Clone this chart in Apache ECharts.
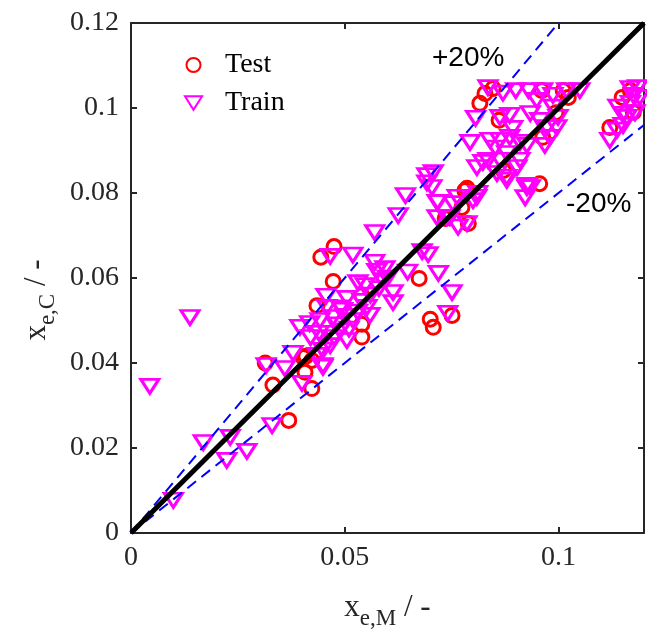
<!DOCTYPE html>
<html>
<head>
<meta charset="utf-8">
<script src="https://cdn.jsdelivr.net/npm/echarts@6/dist/echarts.min.js"></script>
<style>
  html, body { margin: 0; padding: 0; background: #fff; }
  #main { width: 647px; height: 634px; }
</style>
</head>
<body>
<div id="main"></div>
<script>
var testPoints = [
  [0.0314, 0.0400], [0.0332, 0.0348], [0.0369, 0.0265], [0.0423, 0.0340],
  [0.0407, 0.0378], [0.0423, 0.0406], [0.0403, 0.0413], [0.0435, 0.0535],
  [0.0475, 0.0674], [0.0444, 0.0649], [0.0473, 0.0592], [0.0540, 0.0559],
  [0.0540, 0.0491], [0.0540, 0.0461], [0.0674, 0.0599], [0.0700, 0.0503],
  [0.0707, 0.0484], [0.0751, 0.0512], [0.0409, 0.0416], [0.0847, 0.1046],
  [0.0816, 0.1011], [0.0828, 0.1034], [0.0861, 0.0971], [0.0961, 0.1041],
  [0.1011, 0.1041], [0.1023, 0.1025], [0.0994, 0.0989], [0.0963, 0.0931],
  [0.0786, 0.0811], [0.0774, 0.0766], [0.0789, 0.0728], [0.0956, 0.0822],
  [0.1149, 0.1025], [0.1168, 0.1041], [0.1120, 0.0954], [0.0871, 0.0853],
  [0.0735, 0.0740], [0.0781, 0.0806], [0.1175, 0.0990]
];

var trainPoints = [
  // low range
  [0.0138, 0.0507], [0.0044, 0.0345], [0.0169, 0.0213], [0.0232, 0.0225],
  [0.0224, 0.0171], [0.0271, 0.0192], [0.0099, 0.0077], [0.0330, 0.0253],
  [0.0316, 0.0394], [0.0360, 0.0387], [0.0379, 0.0423], [0.0400, 0.0352],
  [0.0395, 0.0484], [0.0418, 0.0493], [0.0449, 0.0394], [0.0458, 0.0531],
  // middle cluster
  [0.0570, 0.0707], [0.0466, 0.0651], [0.0519, 0.0654], [0.0570, 0.0637],
  [0.0575, 0.0616], [0.0594, 0.0622], [0.0589, 0.0594], [0.0531, 0.0589],
  [0.0548, 0.0582], [0.0613, 0.0566], [0.0613, 0.0542], [0.0647, 0.0614],
  [0.0681, 0.0662], [0.0695, 0.0655], [0.0719, 0.0611], [0.0751, 0.0566],
  [0.0741, 0.0517], [0.0456, 0.0557], [0.0505, 0.0552], [0.0552, 0.0531],
  [0.0559, 0.0512], [0.0495, 0.0524], [0.0442, 0.0500], [0.0473, 0.0507],
  [0.0489, 0.0476], [0.0505, 0.0453], [0.0466, 0.0441], [0.0449, 0.0430],
  [0.0449, 0.0390], [0.0435, 0.0418], [0.0480, 0.0490], [0.0520, 0.0500],
  [0.0530, 0.0520], [0.0540, 0.0545], [0.0460, 0.0470], [0.0475, 0.0460],
  [0.0500, 0.0510], [0.0510, 0.0480], [0.0560, 0.0560], [0.0580, 0.0575],
  [0.0420, 0.0460], [0.0440, 0.0470], [0.0600, 0.0600], [0.0490, 0.0530],
  // upper middle
  [0.0692, 0.0824], [0.0625, 0.0747], [0.0642, 0.0794], [0.0704, 0.0813],
  [0.0716, 0.0778], [0.0746, 0.0742], [0.0753, 0.0775], [0.0786, 0.0728],
  [0.0800, 0.0782], [0.0811, 0.0799], [0.0716, 0.0742], [0.0922, 0.0789],
  [0.0926, 0.0818], [0.0692, 0.0841], [0.0707, 0.0848], [0.0806, 0.0976],
  [0.0793, 0.0919], [0.0835, 0.1048], [0.0863, 0.0978], [0.0886, 0.0983],
  [0.0840, 0.0924], [0.0863, 0.0924], [0.0886, 0.0931], [0.0893, 0.0952],
  [0.0852, 0.0906], [0.0879, 0.0893], [0.0910, 0.0919], [0.0809, 0.0860],
  [0.0835, 0.0877], [0.0856, 0.0846], [0.0879, 0.0837], [0.0903, 0.0860],
  [0.0910, 0.0877], [0.0763, 0.0790], [0.0809, 0.0790], [0.0926, 0.0912],
  [0.0934, 0.0987], [0.0949, 0.1018], [0.0963, 0.1041], [0.0956, 0.0971],
  [0.0973, 0.0954], [0.0980, 0.0931], [0.0968, 0.0912], [0.0987, 0.1030],
  [0.0987, 0.1002], [0.0999, 0.0978], [0.0996, 0.0954], [0.1019, 0.1041],
  [0.1050, 0.1041], [0.0926, 0.0813], [0.0879, 0.0830], [0.0823, 0.0872],
  [0.0863, 0.0877], [0.0934, 0.0813], [0.0765, 0.0720], [0.0739, 0.0742],
  [0.0718, 0.0778], [0.0930, 0.1041], [0.0900, 0.1041], [0.0870, 0.1035],
  // right group
  [0.1120, 0.0924], [0.1137, 0.0948], [0.1151, 0.0959], [0.1160, 0.0978],
  [0.1139, 0.1002], [0.1168, 0.1011], [0.1168, 0.1046], [0.1185, 0.1048],
  [0.1190, 0.1025], [0.1179, 0.0989], [0.1175, 0.1030], [0.1150, 0.0985]
];

// reference lines y = x and +-20 %
var parityLine = [[0, 0], [0.12, 0.12]];
var plus20Line = [[0, 0], [0.12, 0.144]];
var minus20Line = [[0, 0], [0.12, 0.096]];

var xTicks = [0, 0.05, 0.1];
var yTicks = [0, 0.02, 0.04, 0.06, 0.08, 0.1, 0.12];

var downTriangle = 'path://M0,0 L20,0 L10,16 Z';
var serif = '"Liberation Serif", "Times New Roman", serif';
var sans = '"Liberation Sans", Arial, sans-serif';
var frameColor = '#262626';

var chart = echarts.init(document.getElementById('main'));

function tickFmt(list) {
  return function (v) {
    var hit = list.filter(function (t) { return Math.abs(t - v) < 1e-9; });
    return hit.length ? String(parseFloat(hit[0].toFixed(3))) : '';
  };
}

var axisCommon = {
  min: 0,
  max: 0.12,
  axisLine: { show: true, onZero: false, lineStyle: { color: frameColor, width: 2 } },
  axisTick: { show: true, inside: true, length: 6, lineStyle: { color: frameColor, width: 2 } },
  splitLine: { show: false }
};

var nameRich = {
  a: { fontFamily: serif, fontSize: 31, color: frameColor },
  b: { fontFamily: serif, fontSize: 23, color: frameColor, padding: [22, 0, 0, 0] }
};

chart.setOption({
  backgroundColor: '#ffffff',
  animation: false,
  grid: { left: 131, right: 3, top: 23, bottom: 101, containLabel: false, outerBoundsMode: 'none' },
  legend: {
    orient: 'vertical',
    left: 179,
    top: 44,
    itemWidth: 17,
    itemHeight: 14,
    itemGap: 6,
    textStyle: { fontFamily: serif, fontSize: 28, color: '#000', lineHeight: 32, padding: [0, 0, 0, 18] },
    data: [
      { name: 'Test', icon: 'circle' },
      { name: 'Train', icon: downTriangle }
    ]
  },
  xAxis: [
    Object.assign({}, axisCommon, {
      type: 'value',
      position: 'bottom',
      interval: 0.05,
      axisLabel: { fontFamily: serif, fontSize: 28, color: frameColor, margin: 11, formatter: tickFmt(xTicks) },
      name: '{a|x}{b|e,M}{a| / -}',
      nameLocation: 'middle',
      nameGap: 52,
      nameTextStyle: { rich: nameRich }
    }),
    Object.assign({}, axisCommon, {
      type: 'value',
      position: 'top',
      interval: 0.05,
      axisLabel: { show: false }
    })
  ],
  yAxis: [
    Object.assign({}, axisCommon, {
      type: 'value',
      position: 'left',
      interval: 0.02,
      axisLabel: { fontFamily: serif, fontSize: 28, color: frameColor, margin: 12, formatter: tickFmt(yTicks) },
      name: '{a|x}{b|e,C}{a| / -}',
      nameLocation: 'middle',
      nameGap: 63,
      nameTextStyle: { rich: nameRich, padding: [0, 44, 0, 0] }
    }),
    Object.assign({}, axisCommon, {
      type: 'value',
      position: 'right',
      interval: 0.02,
      axisLabel: { show: false }
    })
  ],
  graphic: [
    { type: 'text', left: 432, top: 44, z: 100,
      style: { text: '+20%', fontFamily: sans, fontSize: 28, fill: '#000' } },
    { type: 'text', left: 566, top: 190, z: 100,
      style: { text: '-20%', fontFamily: sans, fontSize: 28, fill: '#000' } }
  ],
  series: [
    {
      name: 'Test',
      type: 'scatter',
      symbol: 'circle',
      symbolSize: 14,
      itemStyle: { color: 'rgba(0,0,0,0)', borderColor: '#ff0000', borderWidth: 3, opacity: 1 },
      data: testPoints,
      z: 2
    },
    {
      name: 'Train',
      type: 'scatter',
      symbol: downTriangle,
      symbolKeepAspect: false,
      symbolSize: [18, 14],
      itemStyle: { color: 'rgba(0,0,0,0)', borderColor: '#ff00ff', borderWidth: 3, opacity: 1 },
      data: trainPoints,
      z: 3
    },
    {
      name: '+20%',
      type: 'line',
      data: plus20Line,
      symbol: 'none',
      clip: true,
      lineStyle: { color: '#0000ff', width: 2, type: [11, 7] },
      z: 4
    },
    {
      name: '-20%',
      type: 'line',
      data: minus20Line,
      symbol: 'none',
      clip: true,
      lineStyle: { color: '#0000ff', width: 2, type: [11, 7] },
      z: 4
    },
    {
      name: 'y=x',
      type: 'line',
      data: parityLine,
      symbol: 'none',
      clip: true,
      lineStyle: { color: '#000000', width: 5 },
      z: 5
    }
  ]
});
</script>
</body>
</html>
